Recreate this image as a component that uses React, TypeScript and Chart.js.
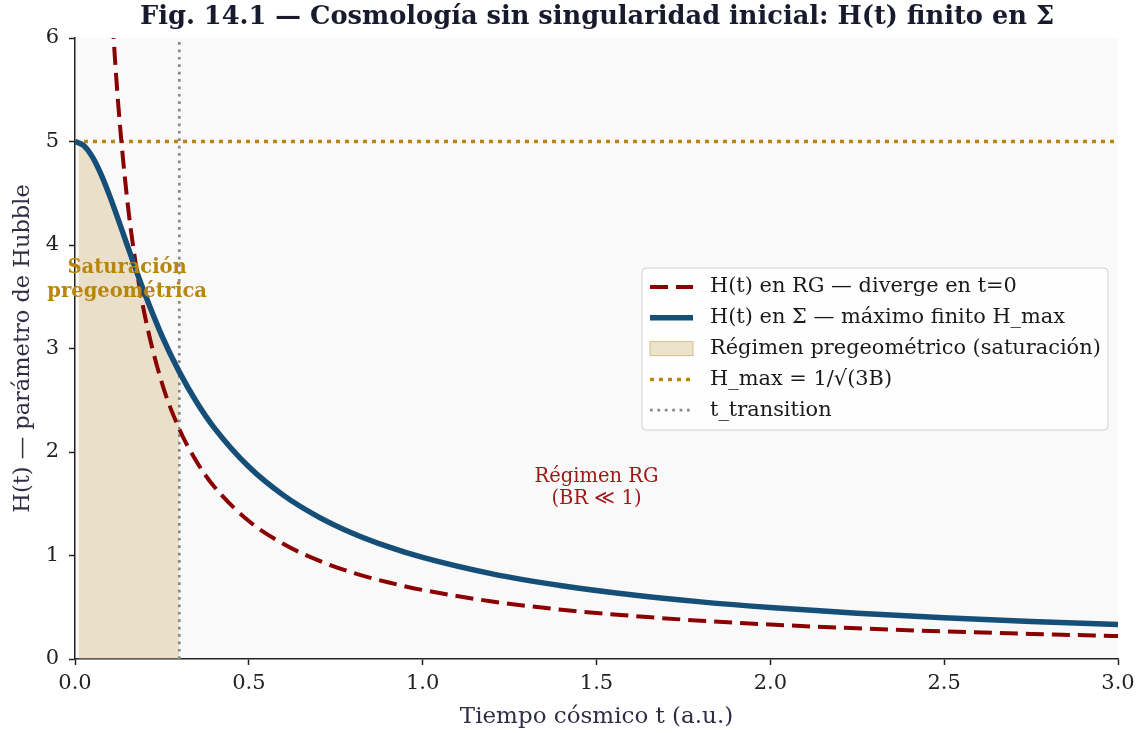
import React, { useEffect, useRef } from "react";
import { Chart, registerables } from "chart.js";

Chart.register(...registerables);

// ---- data ----
const SIGMA_T = [0, 0.025, 0.05, 0.075, 0.1, 0.125, 0.15, 0.175, 0.2, 0.25, 0.3, 0.35, 0.4, 0.5, 0.6, 0.7, 0.8, 0.9, 1.0, 1.2, 1.4, 1.6, 1.8, 2.0, 2.25, 2.5, 2.75, 3.0];
const SIGMA_H = [5.0, 4.961, 4.851, 4.682, 4.472, 4.24, 4.0, 3.763, 3.536, 3.123, 2.774, 2.481, 2.236, 1.857, 1.581, 1.374, 1.213, 1.085, 0.981, 0.822, 0.707, 0.62, 0.552, 0.4975, 0.4427, 0.3987, 0.3627, 0.3326];

const RG_T = [0.1, 0.11, 0.125, 0.15, 0.175, 0.2, 0.25, 0.3, 0.35, 0.4, 0.5, 0.6, 0.7, 0.8, 0.9, 1.0, 1.2, 1.4, 1.6, 1.8, 2.0, 2.25, 2.5, 2.75, 3.0];
const RG_H = [6.667, 6.061, 5.333, 4.444, 3.81, 3.333, 2.667, 2.222, 1.905, 1.667, 1.333, 1.111, 0.952, 0.833, 0.741, 0.667, 0.556, 0.476, 0.417, 0.37, 0.333, 0.296, 0.267, 0.242, 0.222];

const FILL_T = [0.01, 0.025, 0.05, 0.075, 0.1, 0.125, 0.15, 0.175, 0.2, 0.25, 0.3];
const FILL_H = [4.994, 4.961, 4.851, 4.682, 4.472, 4.24, 4.0, 3.763, 3.536, 3.123, 2.774];

const H_MAX = 5;
const T_TRANSITION = 0.3;
const X_RANGE = [0, 3];
const Y_RANGE = [0, 6];

const LABELS = {
  title: "Fig. 14.1 — Cosmología sin singularidad inicial: H(t) finito en Σ",
  x: "Tiempo cósmico t (a.u.)",
  y: "H(t) — parámetro de Hubble",
  rg: "H(t) en RG — diverge en t=0",
  sigma: "H(t) en Σ — máximo finito H_max",
  fill: "Régimen pregeométrico (saturación)",
  hmax: "H_max = 1/√(3B)",
  ttr: "t_transition",
  sat1: "Saturación",
  sat2: "pregeométrica",
  rg1: "Régimen RG",
  rg2: "(BR ≪ 1)",
};

const C = {
  rg: "#8b0000",
  sigma: "#154f78",
  fill: "rgba(212,185,130,0.4)",
  fillEdge: "rgba(205,170,95,0.7)",
  hmax: "#b8860b",
  ttr: "#888888",
  text: "#1a1a2e",
  axis: "#2e2e44",
  bg: "#f9f9f9",
};

const FONT = "'DejaVu Serif', serif";

const pts = (xs: number[], ys: number[]) => xs.map((x, i) => ({ x, y: ys[i] }));

const decor = {
  id: "decor",
  beforeDraw(chart: any) {
    const { ctx, chartArea: a } = chart;
    ctx.save();
    ctx.fillStyle = C.bg;
    ctx.fillRect(a.left, a.top, a.right - a.left, a.bottom - a.top);
    ctx.restore();
  },
  afterDraw(chart: any) {
    const { ctx, chartArea: a, scales } = chart;
    const xs = scales.x, ys = scales.y;
    ctx.save();
    // title
    ctx.fillStyle = C.text;
    ctx.font = `bold 25.7px ${FONT}`;
    ctx.textAlign = "center";
    ctx.textBaseline = "middle";
    ctx.fillText(LABELS.title, 597, 17);
    // axis titles
    ctx.fillStyle = C.axis;
    ctx.font = `23px ${FONT}`;
    ctx.fillText(LABELS.x, (a.left + a.right) / 2, 717);
    ctx.font = `22.5px ${FONT}`;
    ctx.save();
    ctx.translate(23, (a.top + a.bottom) / 2);
    ctx.rotate(-Math.PI / 2);
    ctx.fillText(LABELS.y, 0, 0);
    ctx.restore();
    // annotations
    ctx.fillStyle = C.hmax;
    ctx.font = `bold 19.5px ${FONT}`;
    const sx = xs.getPixelForValue(0.15);
    ctx.fillText(LABELS.sat1, sx, ys.getPixelForValue(3.78));
    ctx.fillText(LABELS.sat2, sx, ys.getPixelForValue(3.55));
    ctx.fillStyle = "#a01818";
    ctx.font = `19.5px ${FONT}`;
    const rx = xs.getPixelForValue(1.5);
    ctx.fillText(LABELS.rg1, rx, ys.getPixelForValue(1.76));
    ctx.fillText(LABELS.rg2, rx, ys.getPixelForValue(1.55));

    // legend
    const lx = 642, ly = 268, lw = 466, lh = 162;
    ctx.beginPath();
    ctx.roundRect(lx, ly, lw, lh, 4);
    ctx.fillStyle = "rgba(255,255,255,0.85)";
    ctx.fill();
    ctx.strokeStyle = "#d0d0d0";
    ctx.lineWidth = 1;
    ctx.stroke();
    const rows = [
      { label: LABELS.rg, kind: "line", color: C.rg, w: 4, dash: [18, 8] },
      { label: LABELS.sigma, kind: "line", color: C.sigma, w: 5.5, dash: [] },
      { label: LABELS.fill, kind: "box" },
      { label: LABELS.hmax, kind: "line", color: C.hmax, w: 3.5, dash: [4, 5] },
      { label: LABELS.ttr, kind: "line", color: C.ttr, w: 2.7, dash: [2.7, 4.7] },
    ];
    ctx.font = `20.9px ${FONT}`;
    ctx.textAlign = "left";
    rows.forEach((r: any, i) => {
      const y = 287 + i * 30.8;
      if (r.kind === "box") {
        ctx.fillStyle = C.fill;
        ctx.fillRect(650, y - 7, 43, 14);
        ctx.strokeStyle = C.fillEdge;
        ctx.lineWidth = 1;
        ctx.strokeRect(650, y - 7, 43, 14);
      } else {
        ctx.beginPath();
        ctx.setLineDash(r.dash);
        ctx.strokeStyle = r.color;
        ctx.lineWidth = r.w;
        ctx.moveTo(650, y);
        ctx.lineTo(693, y);
        ctx.stroke();
        ctx.setLineDash([]);
      }
      ctx.fillStyle = "#1a1a1a";
      ctx.fillText(r.label, 710, y);
    });
    ctx.restore();
  },
};

export default function App() {
  const ref = useRef<HTMLCanvasElement>(null);
  useEffect(() => {
    if (!ref.current) return;
    const chart = new Chart(ref.current, {
      type: "line",
      data: {
        datasets: [
          {
            label: LABELS.sigma,
            data: pts(SIGMA_T, SIGMA_H),
            borderColor: C.sigma,
            borderWidth: 5.5,
            pointRadius: 0,
            cubicInterpolationMode: "monotone",
            fill: false,
            order: 1,
          },
          {
            label: LABELS.rg,
            data: pts(RG_T, RG_H),
            borderColor: C.rg,
            borderWidth: 4,
            borderDash: [18, 8],
            pointRadius: 0,
            cubicInterpolationMode: "monotone",
            fill: false,
            order: 2,
          },
          {
            label: LABELS.hmax,
            data: pts(X_RANGE, [H_MAX, H_MAX]),
            borderColor: C.hmax,
            borderWidth: 3.5,
            borderDash: [4, 5],
            pointRadius: 0,
            fill: false,
            order: 3,
          },
          {
            label: LABELS.ttr,
            data: pts([T_TRANSITION, T_TRANSITION], Y_RANGE),
            borderColor: C.ttr,
            borderWidth: 2.7,
            borderDash: [2.7, 4.7],
            pointRadius: 0,
            fill: false,
            order: 4,
          },
          {
            label: LABELS.fill,
            data: pts(FILL_T, FILL_H),
            borderColor: C.fillEdge,
            borderWidth: 0,
            backgroundColor: C.fill,
            pointRadius: 0,
            cubicInterpolationMode: "monotone",
            fill: "origin",
            order: 5,
          },
        ],
      },
      options: {
        responsive: false,
        animation: false,
        layout: { padding: { top: 38, right: 25, left: 0, bottom: 0 } },
        plugins: {
          legend: { display: false },
          tooltip: { enabled: false },
          title: { display: false },
        },
        scales: {
          x: {
            type: "linear",
            min: X_RANGE[0],
            max: X_RANGE[1],
            afterFit: (s: any) => { s.height = 74; },
            border: { color: "#222", width: 1.5 },
            grid: { drawOnChartArea: false, drawTicks: true, tickLength: 6, tickColor: "#222", tickWidth: 1.5 },
            ticks: {
              stepSize: 0.5,
              padding: 6,
              color: "#222",
              font: { family: FONT, size: 21 },
              callback: (v: any) => Number(v).toFixed(1),
            },
          },
          y: {
            type: "linear",
            min: Y_RANGE[0],
            max: Y_RANGE[1],
            afterFit: (s: any) => { s.width = 75; },
            border: { color: "#222", width: 1.5 },
            grid: { drawOnChartArea: false, drawTicks: true, tickLength: 6, tickColor: "#222", tickWidth: 1.5 },
            ticks: {
              stepSize: 1,
              padding: 10,
              color: "#222",
              font: { family: FONT, size: 21 },
            },
          },
        },
      },
      plugins: [decor],
    });
    return () => chart.destroy();
  }, []);
  return (
    <div style={{ position: "absolute", left: 0, top: 0, width: 1143, height: 733, background: "#fff" }}>
      <canvas ref={ref} width={1143} height={733} />
    </div>
  );
}
